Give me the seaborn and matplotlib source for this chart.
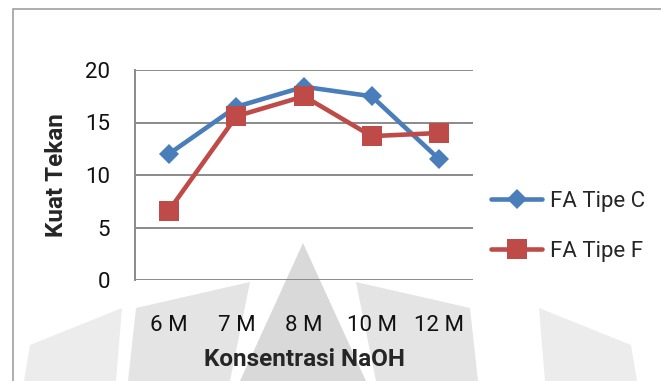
import matplotlib
matplotlib.use("Agg")
import matplotlib.pyplot as plt
import matplotlib.patches as mpatches
import pandas as pd
import seaborn as sns

# Data
categories = ["6 M", "7 M", "8 M", "10 M", "12 M"]
tipe_c = [12.0, 16.5, 18.4, 17.5, 11.5]
tipe_f = [6.6, 15.6, 17.5, 13.7, 14.0]

df = pd.DataFrame({
    "Konsentrasi NaOH": categories * 2,
    "Kuat Tekan": tipe_c + tipe_f,
    "seri": ["FA Tipe C"] * len(categories) + ["FA Tipe F"] * len(categories),
})

sns.set_theme(style="white")
plt.rcParams["font.family"] = ["Roboto", "DejaVu Sans"]

W, H = 661, 381
fig = plt.figure(figsize=(W / 100, H / 100), dpi=100)

# faint watermark in the background (logo shape), pixel coords
wm = [
    ([(30, 345), (122, 308), (116, 381), (24, 381)], "#ececec"),
    ([(631, 345), (539, 308), (545, 381), (637, 381)], "#ececec"),
    ([(136, 308), (250, 282), (230, 381), (128, 381)], "#e4e4e4"),
    ([(470, 308), (356, 282), (376, 381), (478, 381)], "#e4e4e4"),
    ([(303, 243), (240, 381), (366, 381)], "#d9d9d9"),
]
for pts, c in wm:
    fig.patches.append(mpatches.Polygon(
        [(px / W, 1 - py / H) for px, py in pts], closed=True,
        transform=fig.transFigure, facecolor=c, edgecolor="none", zorder=-5))

ax = fig.add_axes([135 / W, 1 - 280 / H, 338 / W, 210 / H])
ax.patch.set_alpha(0)

colors = {"FA Tipe C": "#4A7EBB", "FA Tipe F": "#BE4B48"}
sns.lineplot(data=df, x="Konsentrasi NaOH", y="Kuat Tekan", hue="seri",
             style="seri", markers={"FA Tipe C": "D", "FA Tipe F": "s"},
             dashes=False, palette=colors, sort=False, lw=3.3,
             markersize=10, markeredgewidth=0, ax=ax, zorder=3)
for ln in ax.lines:
    if ln.get_marker() == "s":
        ln.set_markersize(14)

ax.set_xlim(-0.5, len(categories) - 0.5)
ax.set_ylim(0, 20)
ax.set_yticks([0, 5, 10, 15, 20])
ax.yaxis.grid(True, color="#8a8a8a", lw=1.4)
ax.set_axisbelow(True)
for s in ["top", "right", "bottom"]:
    ax.spines[s].set_visible(False)
ax.spines["left"].set_color("#8a8a8a")
ax.spines["left"].set_linewidth(1.4)
ax.tick_params(axis="both", length=0, labelsize=16, colors="#111111")
ax.tick_params(axis="x", pad=25)
ax.tick_params(axis="y", pad=18)

ax.set_xlabel("Konsentrasi NaOH", fontsize=17.5, fontweight="bold", labelpad=9)
ax.set_ylabel("Kuat Tekan", fontsize=17.5, fontweight="bold", labelpad=12)

ax.legend(loc="center left", bbox_to_anchor=(0.995, 0.255), frameon=False,
          fontsize=16, handlelength=2.3, handletextpad=0.35, labelspacing=1.3)

# chart frame
fig.patches.append(mpatches.Rectangle((13 / W, -0.1), 1.2, 1 - 9 / H + 0.1,
                                      transform=fig.transFigure, fill=False,
                                      edgecolor="#a0a0a0", lw=1.2))

fig.savefig("out.png", dpi=100)
